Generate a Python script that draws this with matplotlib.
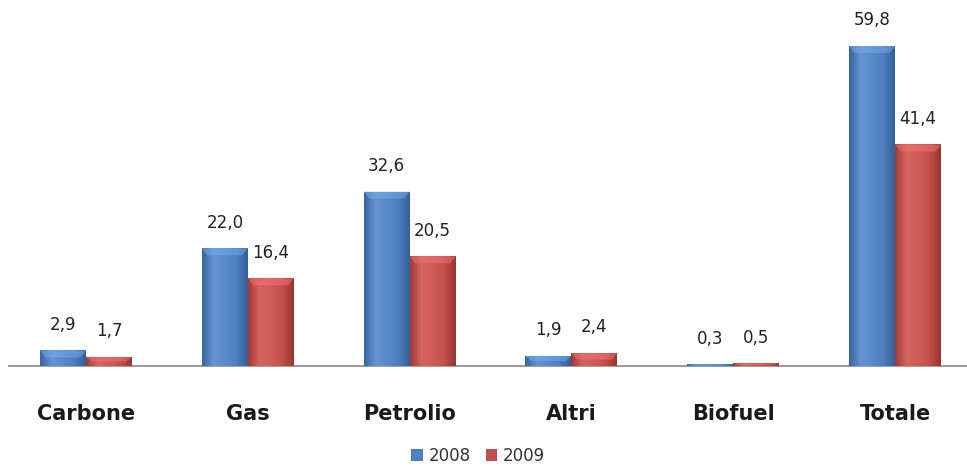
import numpy as np
import matplotlib
matplotlib.use("Agg")
import matplotlib.pyplot as plt
from matplotlib.colors import LinearSegmentedColormap, to_rgb
from matplotlib.patches import Polygon, Patch

categories = ["Carbone", "Gas", "Petrolio", "Altri", "Biofuel", "Totale"]
series_names = ["2008", "2009"]
values_2008 = [2.9, 22.0, 32.6, 1.9, 0.3, 59.8]
values_2009 = [1.7, 16.4, 20.5, 2.4, 0.5, 41.4]

base_colors = ["#4F81BD", "#C0504D"]
shade_stops = {
    "#4F81BD": ["#3A66A0", "#6594D0", "#5A8ACA", "#4F7FC0", "#355F96"],
    "#C0504D": ["#9E3B38", "#D6645F", "#CF5C58", "#C4504C", "#963633"],
}

fig = plt.figure(figsize=(9.67, 4.66), dpi=100)
fig.patch.set_facecolor("white")
ax = fig.add_axes([9 / 967, 100 / 466, 958 / 967, 366 / 466])

x = np.arange(len(categories))
width = 0.284
ymax = 68.4
ax.set_xlim(-0.476, 5.445)
ax.set_ylim(0, ymax)

px_per_unit = 366 / ymax
bevel = 7 / px_per_unit


def shaded_bars(xpos, vals, color):
    bars = ax.bar(xpos, vals, width, color=color, edgecolor="none", zorder=2)
    cmap = LinearSegmentedColormap.from_list("shade", shade_stops[color])
    grad = np.linspace(0, 1, 64).reshape(1, -1)
    light = tuple(min(1, c * 1.15 + 0.1) for c in to_rgb(color))
    for b in bars:
        x0, w, h = b.get_x(), b.get_width(), b.get_height()
        im = ax.imshow(grad, cmap=cmap, aspect="auto",
                       extent=(x0, x0 + w, 0, h), zorder=3,
                       interpolation="bicubic")
        im.set_clip_path(b)
        bh = min(bevel, h / 2)
        inset = w * 0.12
        cap = Polygon([(x0, h), (x0 + w, h), (x0 + w - inset, h - bh),
                       (x0 + inset, h - bh)], closed=True,
                      facecolor=light, edgecolor="none", alpha=0.5, zorder=4)
        ax.add_patch(cap)
    return bars


b1 = shaded_bars(x - width / 2, values_2008, base_colors[0])
b2 = shaded_bars(x + width / 2, values_2009, base_colors[1])

for bars, vals in ((b1, values_2008), (b2, values_2009)):
    for b, v in zip(bars, vals):
        ax.annotate(f"{v:.1f}".replace(".", ","),
                    (b.get_x() + b.get_width() / 2, v),
                    xytext=(0, 12), textcoords="offset points",
                    ha="center", va="bottom", fontsize=12, color="#222222",
                    zorder=6)

for s in ("top", "right", "left"):
    ax.spines[s].set_visible(False)
ax.spines["bottom"].set_color("#8a8a8a")
ax.spines["bottom"].set_linewidth(1.2)
ax.set_yticks([])
ax.set_xticks(x)
ax.set_xticklabels(categories, fontsize=15, fontweight="bold", color="#1a1a1a")
ax.tick_params(axis="x", length=0, pad=27)

handles = [Patch(facecolor=c, edgecolor="none") for c in base_colors]
fig.legend(handles, series_names, loc="center",
           bbox_to_anchor=(478 / 967, 1 - 456 / 466), ncol=2, frameon=False,
           fontsize=12, handlelength=0.7, handleheight=0.7,
           handletextpad=0.35, columnspacing=0.9, labelcolor="#333333")

fig.savefig("out.png", dpi=100, facecolor="white")
